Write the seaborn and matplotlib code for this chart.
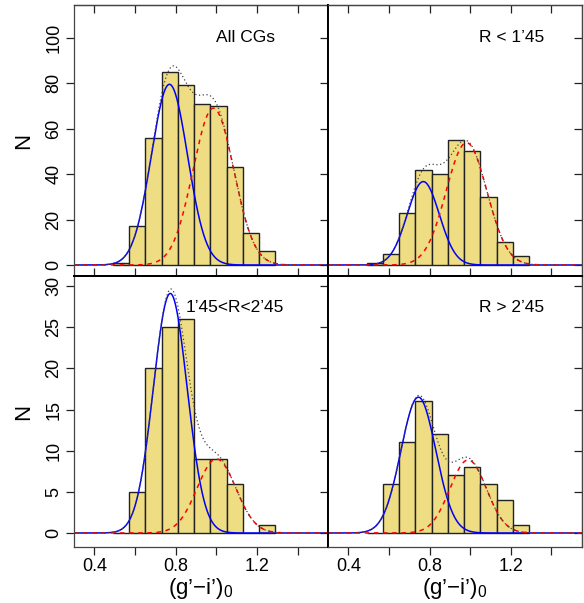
import numpy as np
import matplotlib
matplotlib.use("Agg")
import matplotlib.pyplot as plt
import seaborn as sns

# histogram bins (g'-i')0, shared by all four panels
bin_edges = [0.49, 0.57, 0.65, 0.73, 0.81, 0.89, 0.97, 1.05, 1.13, 1.21, 1.29]

# counts per bin
counts_all = [1, 17, 56, 85, 79, 71, 70, 43, 14, 6]
counts_inner = [1, 5, 23, 42, 40, 55, 50, 30, 10, 4]
counts_mid = [0, 5, 20, 25, 26, 9, 9, 6, 0, 1]
counts_outer = [0, 6, 11, 16, 12, 7, 8, 6, 4, 1]

# gaussian fits: [mean, sigma, peak height]
blue_all = [0.769, 0.089, 79.5]
red_all = [0.985, 0.100, 69.0]
blue_inner = [0.769, 0.079, 36.7]
red_inner = [0.982, 0.100, 53.8]
blue_mid = [0.773, 0.083, 29.1]
red_mid = [1.000, 0.095, 9.0]
blue_outer = [0.745, 0.086, 16.5]
red_outer = [0.990, 0.090, 8.87]

panel_labels = ["All CGs", "R < 1’45", "1’45<R<2’45", "R > 2’45"]
label_pos = [(1.144, 100.0), (1.204, 100.0), (1.09, 27.4), (1.204, 27.4)]

x_ticks = [0.4, 0.6, 0.8, 1.0, 1.2, 1.4]
x_ticklabels = ["0.4", "", "0.8", "", "1.2", ""]
y_ticks_top = [0, 20, 40, 60, 80, 100]
y_ticks_bottom = [0, 5, 10, 15, 20, 25, 30]

plt.rcParams["font.family"] = ["Liberation Sans", "DejaVu Sans"]
plt.rcParams["mathtext.fontset"] = "custom"
plt.rcParams["mathtext.rm"] = "Liberation Sans"

W, H = 584, 603
fig = plt.figure(figsize=(W / 100, H / 100), dpi=100)

xl, xm, xr = 74 / W, 328 / W, 581.5 / W
yt, ym, yb = 1 - 5 / H, 1 - 276 / H, 1 - 547 / H

boxes = [
    [xl, ym, xm - xl, yt - ym],
    [xm, ym, xr - xm, yt - ym],
    [xl, yb, xm - xl, ym - yb],
    [xm, yb, xr - xm, ym - yb],
]
all_counts = [counts_all, counts_inner, counts_mid, counts_outer]
all_blue = [blue_all, blue_inner, blue_mid, blue_outer]
all_red = [red_all, red_inner, red_mid, red_outer]


def gauss(x, p):
    mu, sig, amp = p
    return amp * np.exp(-0.5 * ((x - mu) / sig) ** 2)


edges = np.array(bin_edges)
centers = (edges[:-1] + edges[1:]) / 2
xlim = (0.30, 1.548)
xs = np.linspace(xlim[0], xlim[1], 800)
tick_kw = dict(length=5.5, width=0.9, color="#222222")
outer_col = "#444444"

for i in range(4):
    ax = fig.add_axes(boxes[i])
    top_row = i < 2
    right_col = i % 2 == 1

    sns.histplot(
        x=centers,
        weights=all_counts[i],
        bins=bin_edges,
        color="#EEDD82",
        alpha=1,
        edgecolor="#222222",
        linewidth=1.0,
        ax=ax,
    )
    b = gauss(xs, all_blue[i])
    r = gauss(xs, all_red[i])
    ax.plot(xs, b, color="blue", lw=1.1)
    ax.plot(xs, r, color="red", lw=1.1, ls=(0, (3, 3)))
    ax.plot(xs, b + r, color="#444444", lw=0.9, ls=(0, (1, 2)))

    ax.set_xlim(*xlim)
    if top_row:
        ax.set_ylim(-4.84, 114.4)
        yt_vals = y_ticks_top
    else:
        ax.set_ylim(-1.70, 31.22)
        yt_vals = y_ticks_bottom
    ax.set_xlabel("")
    ax.set_ylabel("")

    ax.set_xticks(x_ticks)
    ax.set_xticklabels(x_ticklabels)
    ax.set_yticks(yt_vals)
    ax.set_yticklabels([str(v) for v in yt_vals], rotation=90, va="center")
    ax.tick_params(axis="x", bottom=True, top=False, direction="out",
                   pad=2.5, labelsize=13, **tick_kw)
    ax.tick_params(axis="y", left=True, right=False, direction="out",
                   pad=3, labelsize=13, **tick_kw)
    if top_row:
        ax.tick_params(labelbottom=False)
    if right_col:
        ax.tick_params(labelleft=False)

    # which sides touch a neighbouring panel
    shared = {
        "top": not top_row,
        "bottom": top_row,
        "left": right_col,
        "right": not right_col,
    }
    for side, sp in ax.spines.items():
        sp.set_visible(True)
        if shared[side]:
            sp.set_color("black")
            sp.set_linewidth(1.4)
        else:
            sp.set_color(outer_col)
            sp.set_linewidth(0.9)

    sec = ax.secondary_xaxis("top")
    sec.set_xticks(x_ticks)
    sec.tick_params(direction="in" if top_row else "out", labeltop=False, **tick_kw)
    sec.spines["top"].set_color(ax.spines["top"].get_edgecolor())
    sec.spines["top"].set_linewidth(ax.spines["top"].get_linewidth())
    if right_col:
        secy = ax.secondary_yaxis("right")
        secy.set_yticks(yt_vals)
        secy.tick_params(direction="in", labelright=False, **tick_kw)
        secy.spines["right"].set_color(outer_col)
        secy.spines["right"].set_linewidth(0.9)

    lx, ly = label_pos[i]
    ax.text(lx, ly, panel_labels[i], ha="center", va="center", fontsize=12.5)

    if not right_col:
        fig.text(24 / W, 1 - (141 if top_row else 411.5) / H, "N",
                 rotation=90, ha="center", va="center", fontsize=16)
    if not top_row:
        cx = boxes[i][0] + boxes[i][2] / 2
        fig.text(cx, 1 - 594 / H, "(g’−i’)$_{\\mathrm{0}}$",
                 ha="center", va="baseline", fontsize=16)

fig.savefig("out.png", dpi=100)
